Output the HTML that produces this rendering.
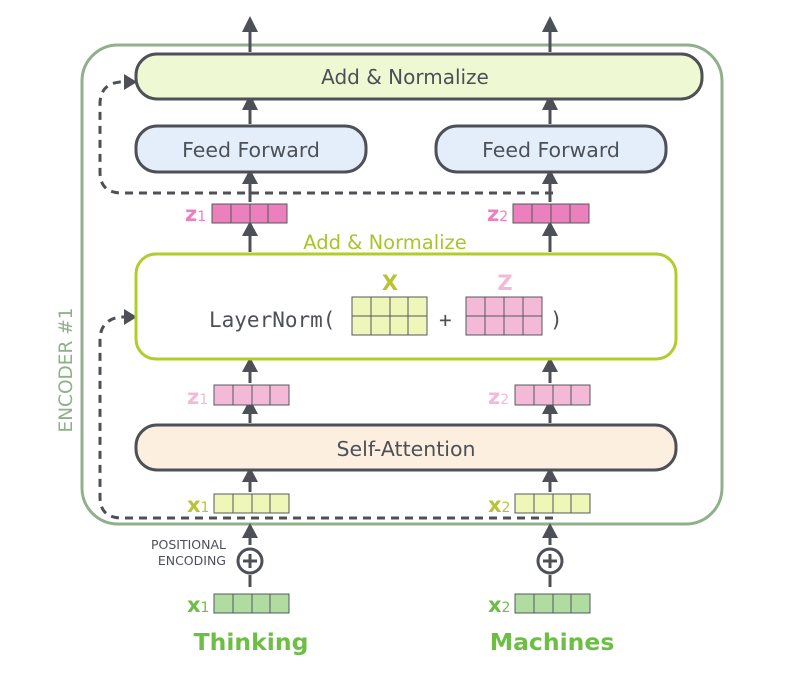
<!DOCTYPE html>
<html><head><style>body{margin:0;background:#fff}svg{display:block}</style></head><body>
<svg width="785" height="673" viewBox="0 0 785 673" xmlns="http://www.w3.org/2000/svg" font-family="'DejaVu Sans','Liberation Sans',sans-serif">
<rect x="82" y="45" width="640" height="479" rx="36" fill="none" stroke="#8fb08a" stroke-width="3"/>
<text transform="translate(72,370) rotate(-90)" text-anchor="middle" font-size="18.5" fill="#8fb08a">ENCODER #1</text>

<g fill="none" stroke="#4d5057" stroke-width="3" stroke-dasharray="8,6">
<path d="M553,193 H122 Q100,193 100,172 V104 Q100,84 120,82 L127,82"/>
<path d="M553,518 H122 Q100,518 100,497 V340 Q100,320 120,317 L127,317"/>
</g>
<path d="M124,74 L137,82 L124,90 Z" fill="#4d5057"/>
<path d="M124,309 L137,317 L124,325 Z" fill="#4d5057"/>

<g stroke="#4d5057" stroke-width="3">
<line x1="250" y1="52" x2="250" y2="28"/><line x1="550" y1="52" x2="550" y2="28"/>
<line x1="250" y1="124" x2="250" y2="106"/><line x1="550" y1="124" x2="550" y2="106"/>
<line x1="250" y1="202" x2="250" y2="180"/><line x1="550" y1="202" x2="550" y2="180"/>
<line x1="250" y1="252" x2="250" y2="232"/><line x1="550" y1="252" x2="550" y2="232"/>
<line x1="250" y1="383" x2="250" y2="368"/><line x1="550" y1="383" x2="550" y2="368"/>
<line x1="250" y1="423" x2="250" y2="410"/><line x1="550" y1="423" x2="550" y2="410"/>
<line x1="250" y1="492" x2="250" y2="478"/><line x1="550" y1="492" x2="550" y2="478"/>
<line x1="250" y1="545" x2="250" y2="534"/><line x1="550" y1="545" x2="550" y2="534"/>
<line x1="250" y1="575" x2="250" y2="587"/><line x1="550" y1="575" x2="550" y2="587"/>
</g>
<g fill="#4d5057">
<path d="M242,32 L250,16 L258,32 Z"/><path d="M542,32 L550,16 L558,32 Z"/>
<path d="M242,110 L250,94 L258,110 Z"/><path d="M542,110 L550,94 L558,110 Z"/>
<path d="M242,184 L250,169 L258,184 Z"/><path d="M542,184 L550,169 L558,184 Z"/>
<path d="M242,236 L250,221 L258,236 Z"/><path d="M542,236 L550,221 L558,236 Z"/>
<path d="M242,372 L250,357 L258,372 Z"/><path d="M542,372 L550,357 L558,372 Z"/>
<path d="M242,414 L250,399 L258,414 Z"/><path d="M542,414 L550,399 L558,414 Z"/>
<path d="M242,482 L250,467 L258,482 Z"/><path d="M542,482 L550,467 L558,482 Z"/>
<path d="M242,538 L250,523 L258,538 Z"/><path d="M542,538 L550,523 L558,538 Z"/>
</g>

<rect x="136" y="54" width="566" height="45" rx="21" fill="#eef8d3" stroke="#4d5057" stroke-width="3"/>
<text x="405" y="84" text-anchor="middle" font-size="20" fill="#4d5057">Add &amp; Normalize</text>
<rect x="136" y="126" width="230" height="46" rx="21" fill="#e4eefa" stroke="#4d5057" stroke-width="3"/>
<text x="251" y="157" text-anchor="middle" font-size="20.5" fill="#4d5057">Feed Forward</text>
<rect x="436" y="126" width="230" height="46" rx="21" fill="#e4eefa" stroke="#4d5057" stroke-width="3"/>
<text x="551" y="157" text-anchor="middle" font-size="20.5" fill="#4d5057">Feed Forward</text>

<g stroke="#55585f" stroke-width="1">
<g fill="#ec80bd"><rect x="212" y="204" width="75" height="19"/><rect x="513" y="204" width="76" height="19"/></g>
<path d="M231,204V223M250,204V223M268,204V223M532,204V223M551,204V223M570,204V223"/>
</g>
<text x="185" y="221" font-size="21" font-weight="bold" fill="#ec80bd">z<tspan font-size="14" font-weight="normal">1</tspan></text>
<text x="487" y="221" font-size="21" font-weight="bold" fill="#ec80bd">z<tspan font-size="14" font-weight="normal">2</tspan></text>

<text x="385" y="249" text-anchor="middle" font-size="19.5" fill="#a8c52a">Add &amp; Normalize</text>
<rect x="136" y="254" width="540" height="105" rx="20" fill="#fff" stroke="#b2cc2c" stroke-width="3"/>
<text x="209" y="327" font-family="'DejaVu Sans Mono','Liberation Mono',monospace" font-size="21" fill="#4d5057">LayerNorm(</text>
<text x="439" y="327" font-family="'DejaVu Sans Mono','Liberation Mono',monospace" font-size="21" fill="#4d5057">+</text>
<text x="550" y="327" font-family="'DejaVu Sans Mono','Liberation Mono',monospace" font-size="21" fill="#4d5057">)</text>
<text x="390" y="290" text-anchor="middle" font-size="21" font-weight="bold" fill="#b8c434">X</text>
<text x="505" y="290" text-anchor="middle" font-size="21" font-weight="bold" fill="#f4b9d7">Z</text>
<g stroke="#55585f" stroke-width="1">
<rect x="352" y="297" width="75" height="38" fill="#eef6b8"/>
<path d="M352,316H427M371,297V335M390,297V335M408,297V335"/>
<rect x="466" y="297" width="76" height="38" fill="#f4b9d7"/>
<path d="M466,316H542M485,297V335M504,297V335M523,297V335"/>
</g>

<g stroke="#55585f" stroke-width="1">
<g fill="#f4b9d7"><rect x="214" y="385" width="75" height="20"/><rect x="515" y="385" width="75" height="20"/></g>
<g fill="#eef6b8"><rect x="214" y="494" width="75" height="19"/><rect x="515" y="494" width="75" height="19"/></g>
<g fill="#b0dca0"><rect x="214" y="594" width="75" height="19"/><rect x="515" y="594" width="75" height="19"/></g>
<path d="M233,385V405M252,385V405M270,385V405M534,385V405M553,385V405M571,385V405"/>
<path d="M233,494V513M252,494V513M270,494V513M534,494V513M553,494V513M571,494V513"/>
<path d="M233,594V613M252,594V613M270,594V613M534,594V613M553,594V613M571,594V613"/>
</g>
<text x="187" y="404" font-size="21" font-weight="bold" fill="#f4b9d7">z<tspan font-size="14" font-weight="normal">1</tspan></text>
<text x="488" y="404" font-size="21" font-weight="bold" fill="#f4b9d7">z<tspan font-size="14" font-weight="normal">2</tspan></text>
<text x="187" y="512" font-size="21" font-weight="bold" fill="#b8c434">x<tspan font-size="14" font-weight="normal">1</tspan></text>
<text x="488" y="512" font-size="21" font-weight="bold" fill="#b8c434">x<tspan font-size="14" font-weight="normal">2</tspan></text>
<text x="187" y="612" font-size="21" font-weight="bold" fill="#6cbe45">x<tspan font-size="14" font-weight="normal">1</tspan></text>
<text x="488" y="612" font-size="21" font-weight="bold" fill="#6cbe45">x<tspan font-size="14" font-weight="normal">2</tspan></text>

<rect x="136" y="425" width="540" height="45" rx="21" fill="#fcefdf" stroke="#4d5057" stroke-width="3"/>
<text x="406" y="456" text-anchor="middle" font-size="20.5" fill="#4d5057">Self-Attention</text>

<g fill="none" stroke="#4d5057" stroke-width="3">
<circle cx="250" cy="561" r="12"/><circle cx="550" cy="561" r="12"/>
<path d="M243,561H257M250,554V568M543,561H557M550,554V568"/>
</g>
<text x="226" y="549" text-anchor="end" font-size="12.5" fill="#4d5057">POSITIONAL</text>
<text x="226" y="565" text-anchor="end" font-size="12.5" fill="#4d5057">ENCODING</text>

<text x="251" y="650" text-anchor="middle" font-size="23.5" font-weight="bold" fill="#6cbe45">Thinking</text>
<text x="552" y="650" text-anchor="middle" font-size="23.5" font-weight="bold" fill="#6cbe45">Machines</text>
</svg>
</body></html>
